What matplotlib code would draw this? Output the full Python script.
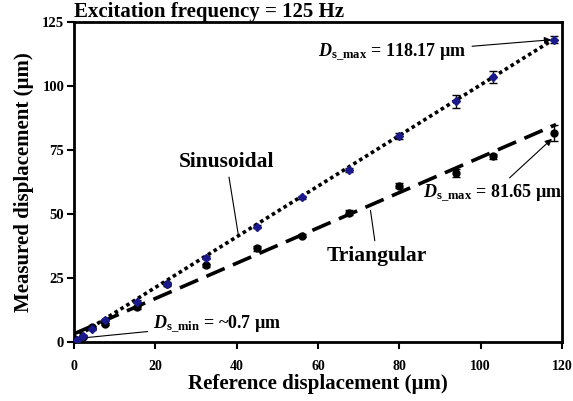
import matplotlib
matplotlib.use("Agg")
import matplotlib.pyplot as plt
import numpy as np

# Reference displacement (µm)
ref_sin = [0.7, 2.3, 4.5, 7.7, 15.4, 23.0, 32.5, 45.0, 56.0, 67.5, 80.0, 94.0, 103.0, 118.0]
ref_tri = [0.7, 2.3, 4.5, 7.7, 15.4, 23.0, 32.5, 45.0, 56.0, 67.5, 80.0, 94.0, 103.0, 118.0]
# Measured displacement (µm)
meas_sin = [0.7, 2.5, 5.0, 8.5, 15.8, 22.8, 33.0, 45.0, 56.6, 67.2, 80.5, 94.0, 103.5, 118.17]
meas_tri = [0.7, 2.0, 5.8, 7.0, 13.5, 22.5, 30.0, 36.7, 41.5, 50.5, 61.0, 66.0, 72.5, 81.65]
# Standard deviations (µm)
err_sin = [0.3, 0.3, 0.3, 0.4, 0.5, 0.5, 0.6, 0.6, 0.6, 0.6, 1.0, 2.5, 2.5, 1.5]
err_tri = [0.3, 0.3, 0.3, 0.4, 0.5, 0.5, 0.6, 1.0, 0.6, 1.0, 1.0, 1.5, 1.0, 3.0]
# Linear fits (slope, intercept)
fit_sin = (0.99, 1.5)
fit_tri = (0.69, 3.2)

x_ticks = [0, 20, 40, 60, 80, 100, 120]
y_ticks = [0, 25, 50, 75, 100, 125]

plt.rcParams["font.family"] = ["Liberation Serif", "DejaVu Serif"]
plt.rcParams["font.weight"] = "bold"
plt.rcParams["mathtext.fontset"] = "custom"
plt.rcParams["mathtext.rm"] = "Liberation Serif"
plt.rcParams["mathtext.it"] = "Liberation Serif:italic:bold"
plt.rcParams["mathtext.bf"] = "Liberation Serif:bold"

fig = plt.figure(figsize=(5.73, 4.01), dpi=100)
ax = fig.add_axes([0.129, 0.147, 0.852, 0.798])

xf = np.array([0, 118.5])
ax.plot(xf, fit_sin[0] * xf + fit_sin[1], color="black", lw=2.6,
        linestyle=(0, (1.0, 0.9)), zorder=2)
ax.plot(xf, fit_tri[0] * xf + fit_tri[1], color="black", lw=2.6,
        linestyle=(0, (5.5, 2.5)), zorder=2)

ax.errorbar(ref_tri, meas_tri, yerr=err_tri, fmt="o", color="black", ms=5,
            ecolor="black", elinewidth=1, capsize=3, capthick=1, zorder=3)
ax.errorbar(ref_sin, meas_sin, yerr=err_sin, fmt="D", color="#1a1a8c",
            mec="#1a1a8c", ms=4.5, ecolor="black", elinewidth=1, capsize=3,
            capthick=1, zorder=4)

ax.set_xlim(0, 120)
ax.set_ylim(0, 125)
ax.set_xticks(x_ticks)
ax.set_yticks(y_ticks)
ax.tick_params(direction="out", length=5, width=1.5, labelsize=10)
ax.tick_params(axis="y", labelsize=10.5, pad=2)
for lab in ax.get_xticklabels() + ax.get_yticklabels():
    lab.set_fontweight("bold")
ax.tick_params(axis="x", pad=8)
for sp in ax.spines.values():
    sp.set_linewidth(2)

ax.set_xlabel("Reference displacement (µm)", fontsize=15, fontweight="bold", labelpad=1)
ax.set_ylabel("Measured displacement (µm)", fontsize=15, fontweight="bold", labelpad=6)
ax.set_title("Excitation frequency = 125 Hz", fontsize=15, fontweight="bold",
             loc="left", pad=0)

arrow = dict(arrowstyle="-|>", color="black", lw=0.8, mutation_scale=10)
ax.annotate(r"$\mathit{D}_{\mathrm{s\_max}}$ = 118.17 µm", xy=(ref_sin[-1], meas_sin[-1]),
            xytext=(96.5, 113), ha="right", va="center", fontsize=13,
            fontweight="bold", arrowprops=arrow)
ax.annotate(r"$\mathit{D}_{\mathrm{s\_max}}$ = 81.65 µm", xy=(ref_tri[-1], meas_tri[-1] - 1.5),
            xytext=(120, 58), ha="right", va="center", fontsize=13,
            fontweight="bold", arrowprops=arrow)
ax.annotate(r"$\mathit{D}_{\mathrm{s\_min}}$ = ~0.7 µm", xy=(1.5, 1.5),
            xytext=(19.5, 6.8), ha="left", va="center", fontsize=13,
            fontweight="bold",
            arrowprops=dict(arrowstyle="-", color="black", lw=0.8))

line = dict(arrowstyle="-", color="black", lw=0.8)
ax.annotate("Sinusoidal", xy=(40.5, 41.0), xytext=(37.5, 70.5), ha="center",
            va="center", fontsize=15.5, fontweight="bold", arrowprops=line)
ax.annotate("Triangular", xy=(72.8, 52.5), xytext=(74.5, 33.5), ha="center",
            va="center", fontsize=15.5, fontweight="bold", arrowprops=line)

fig.savefig("out.png", dpi=100)
